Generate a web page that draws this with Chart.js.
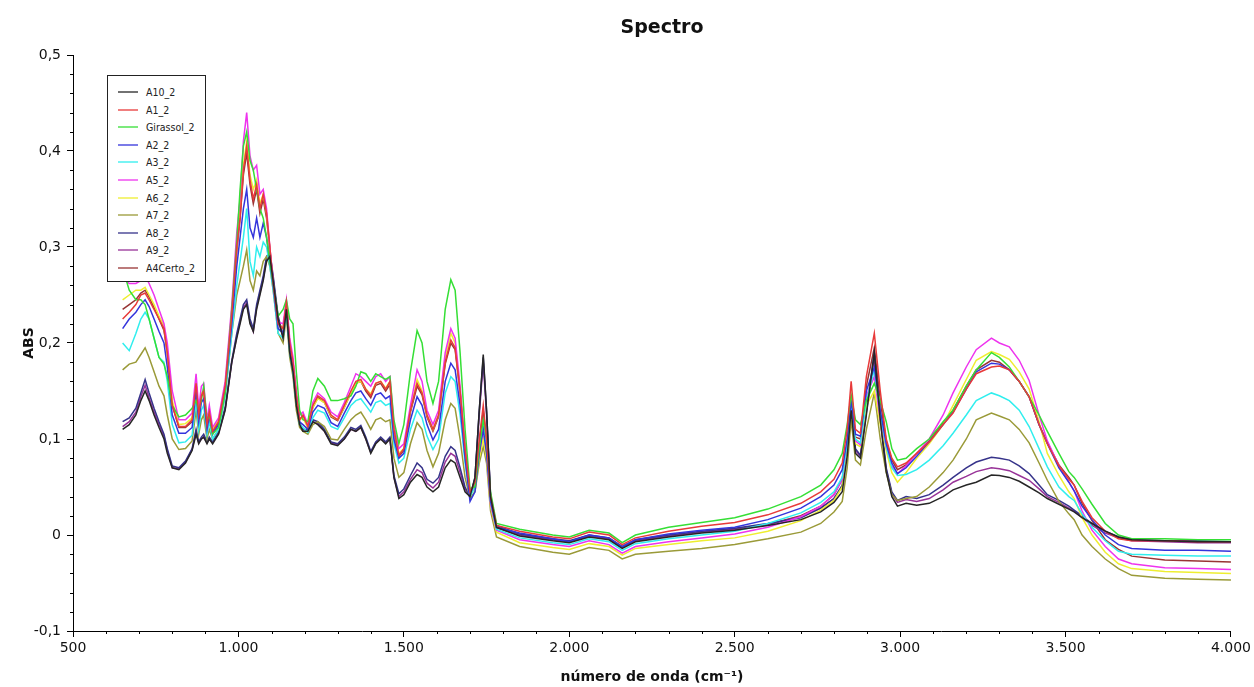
<!DOCTYPE html>
<html>
<head>
<meta charset="utf-8">
<script src="https://cdn.jsdelivr.net/npm/chart.js@4.4.1/dist/chart.umd.min.js"></script>
<style>
  html, body { margin: 0; padding: 0; background: #ffffff; }
  #wrap { position: relative; width: 1254px; height: 687px; }
  #legend {
    position: absolute; left: 107px; top: 75px; width: 99px; height: 207px;
    border: 1px solid #222; background: #fff; box-sizing: border-box;
    font-family: 'DejaVu Sans Condensed', 'DejaVu Sans', sans-serif; font-size: 10.5px; color: #222;
  }
  .item { position: absolute; left: 0; height: 14px; line-height: 14px; white-space: nowrap; }
  .item .sw { position: absolute; left: 10px; top: 6px; width: 20px; height: 2px; opacity: 0.65; }
  .item .tx { position: absolute; left: 38px; top: 0; }
</style>
</head>
<body>
<div id="wrap">
  <canvas id="c" width="1254" height="687"></canvas>
  <div id="legend"></div>
</div>
<script>
// ---------- data ----------
const seriesNames = ['A10_2','A1_2','Girassol_2','A2_2','A3_2','A5_2','A6_2','A7_2','A8_2','A9_2','A4Certo_2'];
const seriesColors = ['#262626','#e83a3a','#35df35','#3434dc','#30eeee','#ee33ee','#eeee30','#9a9a38','#36338a','#983398','#983434'];

const wavenumber = [650,670,690,705,718,730,745,760,775,785,
  800,820,840,860,872,880,888,895,905,912,
  922,940,960,980,995,1005,1015,1025,1035,1045,
  1055,1065,1075,1085,1095,1105,1120,1135,1145,1155,
  1165,1175,1185,1195,1210,1225,1240,1260,1280,1300,
  1320,1340,1355,1370,1385,1400,1415,1430,1445,1458,
  1470,1485,1500,1520,1540,1555,1570,1588,1605,1625,
  1642,1655,1670,1685,1700,1715,1728,1740,1750,1762,1780,
  1850,1950,2000,2060,2120,2160,2200,2300,2400,2500,
  2600,2700,2760,2800,2825,2840,2852,2865,2880,2898,
  2922,2940,2958,2975,2992,3018,3050,3088,3130,3160,
  3200,3230,3276,3300,3330,3360,3390,3420,3445,3480,
  3510,3526,3550,3580,3620,3660,3700,3800,3900,4000];

const A10_2 = [.110,.115,.125,.14,.15,.14,.125,.112,.10,.085,
  .07,.068,.075,.088,.105,.095,.1,.102,.095,.1,
  .095,.105,.13,.18,.205,.22,.235,.24,.22,.212,
  .235,.25,.265,.285,.29,.265,.225,.205,.235,.19,
  .17,.135,.115,.108,.108,.118,.115,.108,.095,.093,
  .1,.11,.108,.112,.1,.085,.095,.1,.095,.1,
  .06,.038,.042,.055,.063,.06,.05,.045,.05,.07,
  .078,.075,.06,.045,.04,.06,.13,.188,.13,.04,.008,
  -.001,-.006,-.008,-.002,-.005,-.014,-.007,-.002,.002,.005,
  .01,.016,.024,.034,.045,.082,.13,.085,.08,.125,
  .19,.12,.066,.04,.03,.033,.031,.033,.04,.047,
  .052,.055,.0625,.062,.06,.056,.05,.044,.038,.032,
  .027,.024,.018,.012,.004,-.002,-.005,-.006,-.007,-.007];

const A1_2 = [.225,.232,.24,.25,.252,.245,.235,.225,.215,.19,
  .135,.113,.113,.12,.158,.125,.145,.15,.115,.128,
  .108,.118,.155,.23,.3,.33,.38,.405,.37,.35,
  .365,.34,.355,.335,.3,.262,.22,.215,.242,.2,
  .18,.145,.12,.125,.113,.135,.145,.14,.125,.12,
  .135,.15,.16,.162,.152,.145,.158,.16,.152,.16,
  .11,.083,.09,.13,.158,.148,.125,.11,.125,.18,
  .203,.195,.15,.09,.045,.055,.1,.135,.1,.04,.01,
  .004,-.002,-.004,.003,.0,-.01,-.003,.004,.009,.013,
  .021,.033,.045,.058,.075,.11,.16,.11,.106,.165,
  .21,.15,.1,.08,.071,.075,.085,.097,.115,.127,
  .152,.168,.175,.176,.172,.16,.144,.115,.095,.072,
  .058,.052,.035,.018,.004,-.004,-.006,-.006,-.007,-.007];

const Girassol_2 = [.278,.255,.245,.245,.24,.225,.205,.185,.178,.165,
  .135,.123,.125,.132,.14,.13,.14,.155,.12,.125,
  .105,.112,.148,.235,.305,.36,.405,.42,.39,.38,
  .36,.34,.33,.31,.285,.262,.228,.235,.245,.225,
  .22,.17,.13,.12,.118,.15,.163,.155,.14,.14,
  .142,.145,.155,.17,.168,.16,.168,.165,.162,.165,
  .12,.095,.115,.17,.213,.2,.16,.137,.16,.235,
  .266,.255,.19,.11,.048,.05,.09,.12,.1,.045,.012,
  .006,.0,-.002,.005,.002,-.008,.0,.008,.013,.018,
  .027,.04,.052,.068,.085,.115,.146,.12,.115,.14,
  .158,.14,.118,.09,.078,.08,.09,.1,.118,.13,
  .155,.172,.19,.185,.175,.16,.144,.125,.108,.085,
  .066,.06,.048,.032,.012,.0,-.004,-.004,-.005,-.005];

const A2_2 = [.215,.225,.232,.24,.245,.238,.225,.212,.2,.175,
  .125,.106,.106,.112,.15,.118,.138,.142,.11,.124,
  .105,.115,.15,.22,.28,.31,.34,.36,.32,.31,
  .33,.31,.325,.31,.285,.26,.215,.21,.237,.195,
  .175,.14,.118,.115,.11,.128,.135,.132,.117,.113,
  .127,.14,.148,.15,.142,.135,.146,.148,.142,.145,
  .1,.08,.085,.12,.144,.135,.115,.099,.11,.16,
  .179,.172,.135,.08,.035,.045,.085,.11,.085,.035,.008,
  .002,-.004,-.007,.0,-.003,-.012,-.005,.001,.005,.008,
  .016,.028,.04,.052,.068,.1,.14,.105,.103,.15,
  .175,.13,.095,.075,.064,.07,.082,.097,.115,.128,
  .152,.17,.179,.178,.172,.16,.144,.115,.095,.07,
  .055,.046,.03,.016,.0,-.01,-.014,-.016,-.016,-.017];

const A3_2 = [.2,.192,.21,.225,.232,.225,.205,.185,.18,.16,
  .115,.096,.097,.104,.14,.11,.13,.135,.105,.118,
  .1,.11,.145,.21,.26,.285,.31,.34,.285,.27,
  .3,.29,.305,.3,.28,.255,.21,.205,.232,.19,
  .17,.137,.115,.112,.107,.122,.13,.127,.113,.11,
  .122,.135,.14,.142,.135,.128,.138,.14,.135,.137,
  .095,.075,.08,.11,.13,.122,.103,.089,.1,.148,
  .165,.16,.125,.075,.04,.05,.09,.113,.09,.035,.006,
  -.003,-.008,-.01,-.004,-.007,-.016,-.009,-.004,.0,.004,
  .012,.023,.034,.045,.06,.095,.138,.1,.096,.14,
  .172,.125,.092,.07,.062,.063,.068,.078,.093,.106,
  .125,.14,.148,.145,.14,.13,.113,.09,.071,.05,
  .04,.036,.022,.008,-.006,-.017,-.02,-.021,-.022,-.022];

const A5_2 = [.268,.262,.262,.265,.27,.262,.25,.235,.22,.2,
  .15,.12,.12,.127,.168,.132,.155,.158,.12,.135,
  .112,.122,.16,.24,.315,.35,.41,.44,.395,.38,
  .385,.355,.36,.34,.3,.265,.222,.22,.245,.205,
  .185,.15,.125,.128,.115,.138,.148,.142,.128,.123,
  .138,.155,.168,.165,.16,.155,.165,.168,.16,.165,
  .115,.09,.095,.135,.172,.16,.13,.115,.13,.19,
  .215,.205,.155,.092,.043,.05,.085,.11,.088,.032,.005,
  -.005,-.01,-.012,-.006,-.01,-.019,-.012,-.007,-.003,.001,
  .008,.019,.03,.042,.058,.095,.135,.098,.094,.145,
  .165,.12,.092,.072,.064,.072,.085,.1,.125,.148,
  .175,.193,.205,.2,.196,.182,.161,.125,.098,.072,
  .055,.046,.025,.005,-.012,-.025,-.03,-.034,-.035,-.036];

const A6_2 = [.245,.25,.255,.255,.258,.25,.24,.228,.218,.19,
  .14,.115,.116,.122,.16,.126,.148,.15,.117,.13,
  .11,.12,.157,.235,.3,.34,.385,.41,.375,.36,
  .37,.345,.355,.335,.298,.262,.22,.215,.24,.2,
  .18,.145,.12,.122,.112,.133,.142,.138,.124,.12,
  .133,.148,.158,.16,.152,.147,.158,.16,.153,.16,
  .11,.085,.09,.13,.162,.15,.125,.11,.125,.185,
  .21,.2,.15,.088,.042,.048,.08,.1,.08,.03,.003,
  -.008,-.013,-.015,-.009,-.012,-.021,-.014,-.01,-.006,-.003,
  .004,.015,.026,.036,.05,.088,.13,.095,.092,.135,
  .15,.115,.088,.065,.055,.065,.08,.095,.115,.135,
  .162,.182,.191,.188,.183,.17,.152,.118,.085,.062,
  .045,.038,.018,.0,-.018,-.03,-.035,-.038,-.039,-.04];

const A7_2 = [.172,.178,.18,.188,.195,.185,.17,.155,.145,.125,
  .1,.089,.09,.098,.13,.105,.12,.125,.1,.11,
  .1,.11,.145,.21,.25,.265,.28,.297,.265,.255,
  .275,.27,.285,.29,.28,.255,.21,.2,.228,.185,
  .165,.13,.112,.108,.105,.115,.118,.113,.1,.099,
  .11,.12,.125,.128,.12,.11,.12,.122,.118,.12,
  .08,.06,.065,.095,.117,.11,.088,.071,.085,.12,
  .137,.132,.1,.06,.038,.045,.075,.092,.075,.025,-.002,
  -.012,-.018,-.02,-.013,-.016,-.025,-.02,-.017,-.014,-.01,
  -.004,.003,.012,.024,.035,.07,.12,.078,.073,.11,
  .148,.1,.065,.042,.036,.038,.04,.05,.065,.078,
  .1,.12,.127,.124,.12,.11,.096,.075,.057,.035,
  .022,.016,.0,-.012,-.025,-.035,-.042,-.045,-.046,-.047];

const A8_2 = [.118,.122,.132,.148,.162,.148,.132,.118,.105,.09,
  .072,.07,.077,.09,.11,.097,.102,.105,.097,.102,
  .097,.108,.133,.182,.21,.225,.24,.245,.225,.215,
  .24,.255,.27,.29,.295,.27,.228,.208,.238,.193,
  .173,.137,.117,.11,.11,.12,.118,.11,.097,.095,
  .102,.112,.11,.114,.102,.087,.097,.102,.097,.102,
  .062,.043,.048,.062,.075,.07,.058,.054,.06,.082,
  .092,.088,.07,.05,.04,.06,.13,.185,.13,.042,.01,
  .001,-.004,-.006,.0,-.003,-.012,-.005,.0,.004,.007,
  .012,.018,.028,.038,.052,.09,.14,.09,.083,.13,
  .19,.125,.07,.045,.036,.04,.038,.042,.052,.06,
  .07,.076,.081,.08,.078,.072,.064,.052,.042,.036,
  .03,.026,.02,.012,.004,-.002,-.005,-.006,-.006,-.007];

const A9_2 = [.113,.118,.128,.144,.156,.143,.128,.115,.103,.088,
  .07,.069,.076,.089,.108,.096,.1,.102,.096,.1,
  .096,.106,.131,.18,.207,.222,.237,.242,.222,.212,
  .237,.252,.267,.287,.292,.267,.225,.206,.236,.19,
  .17,.135,.115,.108,.108,.118,.116,.108,.096,.094,
  .1,.11,.108,.112,.1,.086,.096,.1,.096,.1,
  .06,.04,.045,.058,.068,.065,.054,.049,.055,.076,
  .085,.082,.065,.048,.04,.058,.125,.18,.125,.04,.008,
  .0,-.005,-.007,-.001,-.004,-.013,-.006,-.001,.003,.006,
  .011,.019,.028,.038,.05,.088,.135,.088,.082,.128,
  .185,.12,.068,.043,.034,.037,.035,.038,.047,.055,
  .061,.066,.07,.069,.067,.062,.057,.048,.04,.034,
  .028,.025,.018,.01,.002,-.003,-.006,-.007,-.008,-.008];

const A4Certo_2 = [.235,.24,.245,.252,.255,.248,.237,.225,.213,.19,
  .135,.112,.112,.118,.158,.124,.145,.148,.114,.127,
  .107,.117,.153,.228,.295,.33,.375,.398,.365,.345,
  .36,.335,.35,.33,.298,.262,.22,.215,.242,.2,
  .18,.145,.12,.124,.112,.133,.143,.138,.123,.119,
  .133,.148,.158,.16,.15,.143,.156,.158,.15,.157,
  .108,.082,.088,.128,.155,.146,.123,.108,.123,.178,
  .2,.193,.148,.088,.044,.052,.095,.13,.097,.038,.008,
  .0,-.005,-.007,-.001,-.004,-.013,-.006,-.001,.003,.006,
  .011,.02,.03,.042,.058,.095,.14,.102,.1,.155,
  .195,.14,.098,.078,.068,.073,.085,.098,.117,.13,
  .155,.172,.182,.18,.172,.16,.144,.115,.096,.073,
  .06,.052,.033,.015,-.005,-.015,-.022,-.026,-.027,-.028];

const seriesValues = [A10_2, A1_2, Girassol_2, A2_2, A3_2, A5_2, A6_2, A7_2, A8_2, A9_2, A4Certo_2];

const xTickValues = [500,1000,1500,2000,2500,3000,3500,4000];
const yTickValues = [-0.1,0,0.1,0.2,0.3,0.4,0.5];
const titleText = 'Spectro';
const xTitle = 'número de onda (cm⁻¹)';
const yTitle = 'ABS';

// ---------- chart ----------
const FONT = "'DejaVu Sans', sans-serif";

const datasets = seriesNames.map((name, i) => ({
  label: name,
  data: wavenumber.map((x, j) => ({ x: x, y: seriesValues[i][j] })),
  borderColor: seriesColors[i],
  backgroundColor: seriesColors[i],
  borderWidth: 1.5,
  pointRadius: 0,
  tension: 0,
  fill: false
}));

const extras = {
  id: 'extras',
  afterDraw(chart) {
    const ctx = chart.ctx;
    const xs = chart.scales.x, ys = chart.scales.y;
    const area = chart.chartArea;
    ctx.save();
    ctx.strokeStyle = '#000';
    ctx.lineWidth = 1;
    ctx.beginPath();
    for (let v = 600; v < 4000; v += 100) {
      if (v % 500 === 0) continue;
      const px = Math.round(xs.getPixelForValue(v)) + 0.5;
      ctx.moveTo(px, area.bottom);
      ctx.lineTo(px, area.bottom + 3);
    }
    for (let k = -4; k < 25; k++) {
      if (k % 5 === 0) continue;
      const v = k * 0.02;
      const py = Math.round(ys.getPixelForValue(v)) + 0.5;
      ctx.moveTo(area.left - 3, py);
      ctx.lineTo(area.left, py);
    }
    ctx.stroke();
    ctx.fillStyle = '#111';
    ctx.font = "bold 19px 'DejaVu Sans', sans-serif";
    ctx.textAlign = 'center';
    ctx.textBaseline = 'alphabetic';
    ctx.fillText(titleText, 662, 33);
    ctx.restore();
  }
};

new Chart(document.getElementById('c'), {
  type: 'line',
  data: { datasets: datasets },
  options: {
    responsive: false,
    animation: false,
    parsing: true,
    layout: { padding: { top: 55, right: 22, left: 0, bottom: 0 } },
    plugins: {
      legend: { display: false },
      title: { display: false },
      tooltip: { enabled: false }
    },
    scales: {
      x: {
        type: 'linear',
        min: 500, max: 4000,
        afterFit: (s) => { s.height = 56; },
        afterBuildTicks: (s) => { s.ticks = xTickValues.map(v => ({ value: v })); },
        ticks: {
          color: '#111',
          font: { family: FONT, size: 14 },
          padding: 3,
          maxRotation: 0,
          callback: (v) => String(Math.round(v)).replace(/\B(?=(\d{3})+(?!\d))/g, '.')
        },
        grid: { display: true, drawOnChartArea: false, drawTicks: true, tickLength: 6, color: '#000' },
        border: { display: true, color: '#000', width: 1 },
        title: {
          display: true, text: xTitle, color: '#111',
          font: { family: FONT, size: 14, weight: 'bold', lineHeight: 1.2 },
          padding: { top: 0, bottom: 1 }
        }
      },
      y: {
        type: 'linear',
        min: -0.1, max: 0.5,
        afterFit: (s) => { s.width = 73; },
        afterBuildTicks: (s) => { s.ticks = yTickValues.map(v => ({ value: v })); },
        ticks: {
          color: '#111',
          font: { family: FONT, size: 14 },
          padding: 6,
          callback: (v) => {
            const r = Math.round(v * 10) / 10;
            if (r === 0) return '0';
            return r.toFixed(1).replace('.', ',');
          }
        },
        grid: { display: true, drawOnChartArea: false, drawTicks: true, tickLength: 6, color: '#000' },
        border: { display: true, color: '#000', width: 1 },
        title: {
          display: true, text: yTitle, color: '#111',
          font: { family: FONT, size: 14, weight: 'bold', lineHeight: 1.2 },
          padding: { top: 21, bottom: 0 }
        }
      }
    }
  },
  plugins: [extras]
});

// ---------- legend (HTML text) ----------
const lg = document.getElementById('legend');
seriesNames.forEach((name, i) => {
  const it = document.createElement('div');
  it.className = 'item';
  it.style.top = (9 + i * 17.6) + 'px';
  const sw = document.createElement('span');
  sw.className = 'sw';
  sw.style.background = seriesColors[i];
  const tx = document.createElement('span');
  tx.className = 'tx';
  tx.textContent = name;
  it.appendChild(sw); it.appendChild(tx);
  lg.appendChild(it);
});
</script>
</body>
</html>
